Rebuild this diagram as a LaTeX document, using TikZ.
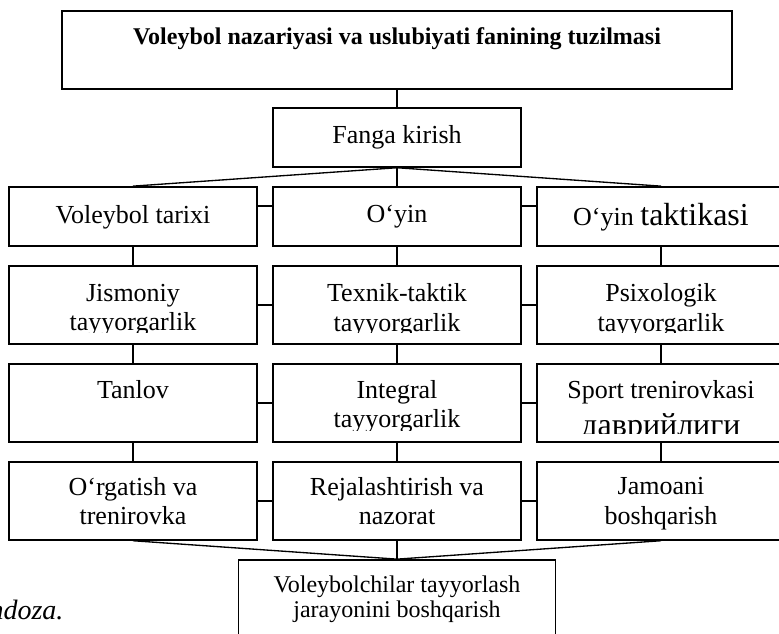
\documentclass[tikz,border=0pt]{standalone}
\usepackage{fontspec}
\setmainfont{Liberation Serif}
\usetikzlibrary{positioning}
\tikzset{
    cell/.style={rectangle, draw=black, line width=1.2pt, minimum width=185.6pt, minimum height=58.5pt, inner sep=0pt},
    low_cell/.style={cell, minimum height=44.25pt},
    wide_cell/.style={cell, minimum width=502.5pt},
    end_cell/.style={cell, minimum width=237.75pt},
    cell_text/.style={inner sep=0pt, outer sep=0pt, align=center, font=\fontsize{19.5pt}{22pt}\selectfont},
    title_text/.style={cell_text, font=\bfseries\fontsize{18pt}{21pt}\selectfont},
    end_text/.style={cell_text, font=\fontsize{18pt}{18.75pt}\selectfont},
    note_text/.style={cell_text, font=\itshape\fontsize{21pt}{24pt}\selectfont},
    line/.style={line width=1pt},
}
\newcommand{\largertext}{\fontsize{24pt}{27pt}\selectfont}

\begin{document}
\begin{tikzpicture}[node distance=13.8pt and 11.2pt]
            \useasboundingbox (0,0) rectangle (584.25pt,-474.75pt);
            %%%%%%%%%%%
            % HEADING %
            %%%%%%%%%%%
            \node (tuzilma) [wide_cell] at (297.75pt,-37.5pt) {};
            \node (tuzilma_text) [title_text, below=13pt of tuzilma.north]
                    {Voleybol nazariyasi va uslubiyati fanining tuzilmasi};
            \node (kirish) [low_cell, below=13pt of tuzilma] {};
            \node (kirish_text) [cell_text, below=14pt of kirish.north]
                    {Fanga kirish};

            \draw [line] (tuzilma) -- (kirish);

            %%%%%%%%%
            % ROW 1 %
            %%%%%%%%%
            \node (oyin) [low_cell, below = of kirish] {};
            \node (tarixi) [low_cell, left = of oyin] {};
            \node (taktika) [low_cell, right = of oyin] {};
            \node (tarixi_text) [cell_text, below=14.5pt of tarixi.north]
                    {Voleybol tarixi};
            \node (oyin_text) [cell_text, below=14.5pt of oyin.north]
                    {O‘yin};
            \node (taktika_text) [cell_text, below=13pt of taktika.north]
                    {O‘yin {\largertext taktikasi}};

            \draw [line] (kirish.south) -- (tarixi.north);
            \draw [line] (kirish.south) -- (oyin.north);
            \draw [line] (kirish.south) -- (taktika.north);
            \draw [line] ([yshift=-15pt]tarixi.north east) -- ([yshift=-15pt]oyin.north west);
            \draw [line] ([yshift=-15pt]oyin.north east) -- ([yshift=-15pt]taktika.north west);

            %%%%%%%%%
            % ROW 2 %
            %%%%%%%%%
            \node (jismoniy) [cell, below = of tarixi] {};
            \node (texnik) [cell, below = of oyin] {};
            \node (psixologik) [cell, below = of taktika] {};
            \begin{scope}
                \clip ([yshift=9pt]jismoniy.south west) rectangle (psixologik.north east);
                \node (jismoniy_text) [cell_text, below=14pt of jismoniy.north]
                        {Jismoniy\\tayyorgarlik};
                \node (texnik_text) [cell_text, below=14pt of texnik.north]
                        {Texnik-taktik\\tayyorgarlik};
                \node (psixologik_text) [cell_text, below=14pt of psixologik.north]
                        {Psixologik\\tayyorgarlik};
            \end{scope}

            \draw [line] (tarixi) -- (jismoniy);
            \draw [line] (oyin) -- (texnik);
            \draw [line] (taktika) -- (psixologik);
            \draw [line] (jismoniy) -- (texnik);
            \draw [line] (texnik) -- (psixologik);

            %%%%%%%%%
            % ROW 3 %
            %%%%%%%%%
            \node (tanlov) [cell, below = of jismoniy] {};
            \node (integral) [cell, below = of texnik] {};
            \node (davriylik) [cell, below = of psixologik] {};
            \node (tanlov_text) [cell_text, below=13pt of tanlov.north]
                    {Tanlov};
            \begin{scope}
                \clip ([yshift=9pt]integral.south west) rectangle (integral.north east);
                \node (integral_text) [cell_text, below=13pt of integral.north]
                        {Integral\\tayyorgarlik};
            \end{scope}
            \begin{scope}
                \clip ([yshift=6.75pt]davriylik.south west) rectangle (davriylik.north east);
                \node (davriylik_text) [cell_text, below=13pt of davriylik.north]
                        {Sport trenirovkasi\\[6pt]{\largertext даврийлиги}};
            \end{scope}

            \draw [line] (jismoniy) -- (tanlov);
            \draw [line] (texnik) -- (integral);
            \draw [line] (psixologik) -- (davriylik);
            \draw [line] (tanlov) -- (integral);
            \draw [line] (integral) -- (davriylik);

            %%%%%%%%%
            % ROW 4 %
            %%%%%%%%%
            \node (orgatish) [cell, below = of tanlov] {};
            \node (rejalash) [cell, below = of integral] {};
            \node (jamoa) [cell, below = of davriylik] {};
            \node (orgatish_text) [cell_text, below=12.25pt of orgatish.north]
                    {O‘rgatish va\\trenirovka};
            \node (rejalash_text) [cell_text, below=12.25pt of rejalash.north]
                    {Rejalashtirish va\\nazorat};
            \node (jamoa_text) [cell_text, below=12.25pt of jamoa.north]
                    {Jamoani\\boshqarish};

            \draw [line] (tanlov) -- (orgatish);
            \draw [line] (integral) -- (rejalash);
            \draw [line] (davriylik) -- (jamoa);
            \draw [line] (orgatish) -- (rejalash);
            \draw [line] (rejalash) -- (jamoa);

            %%%%%%%%%%
            % BOTTOM %
            %%%%%%%%%%
            \node (boshqarish) [end_cell, below = of rejalash] {};
            \node (boshqarish_text) [end_text, below=12.5pt of boshqarish.north]
                    {Voleybolchilar tayyorlash\\jarayonini boshqarish};

            \draw [line] (orgatish.south) -- (boshqarish.north);
            \draw [line] (rejalash.south) -- (boshqarish.north);
            \draw [line] (jamoa.south) -- (boshqarish.north);

            \node (andoza) [note_text, anchor=base east] at (47.6pt,-464.25pt) {ndoza.};
\end{tikzpicture}
\end{document}
